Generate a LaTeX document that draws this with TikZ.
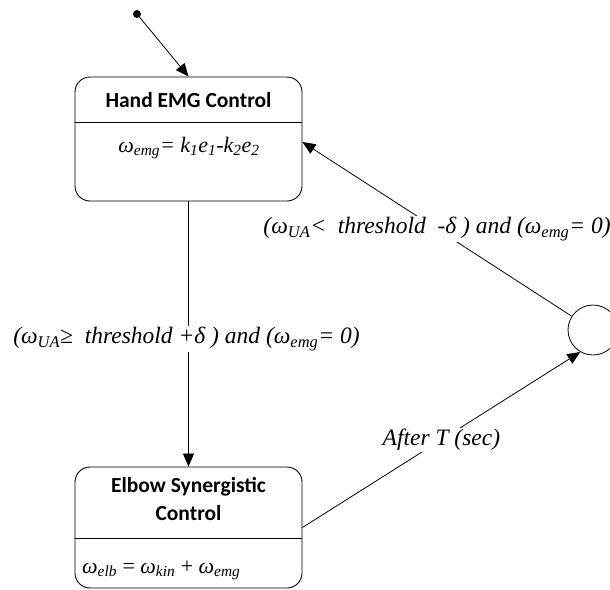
\documentclass[tikz,border=0pt]{standalone}
\usepackage{fontspec}
\setmainfont{Liberation Serif}
\newfontfamily\titlefont{Carlito}
\usetikzlibrary{arrows.meta}
\newcommand\lo[1]{\textsubscript{#1}}
\begin{document}
\begin{tikzpicture}[x=1pt,y=-1pt,
  state/.style={draw, line width=0.9pt, rounded corners=15pt, minimum width=227pt, inner sep=0pt},
  divider/.style={line width=0.8pt},
  title/.style={font=\titlefont\bfseries\fontsize{21.5}{28}\selectfont, align=center, inner sep=0pt},
  formula/.style={font=\itshape\fontsize{22}{26}\selectfont, inner sep=0pt},
  guard/.style={font=\itshape\fontsize{23.5}{28}\selectfont, fill=white, inner sep=1pt},
  edge/.style={line width=0.8pt, -{Triangle[length=13pt,width=11pt]}},
]
\useasboundingbox (0,0) rectangle (610,589);

% states
\node[state, minimum height=124pt] (hand) at (188.5,139) {};
\node[state, minimum height=121pt] (elb) at (188.5,527.5) {};
\coordinate (hsplit) at (0,122);
\coordinate (esplit) at (0,538);
\draw[divider] (hand.west |- hsplit) -- (hand.east |- hsplit);
\draw[divider] (elb.west |- esplit) -- (elb.east |- esplit);

\node[title] (handtitle) at (188.5,100) {Hand EMG Control};
\node[formula] (handlaw) at (189,148) {ω\lo{emg}= k\lo{1}e\lo{1}-k\lo{2}e\lo{2}};
\node[title] (elbtitle) at (188.5,499) {Elbow Synergistic\\Control};
\node[formula, anchor=west] (elblaw) at (82,570) {ω\lo{elb}\upshape{} = \itshape ω\lo{kin}\upshape{} + \itshape ω\lo{emg}};

% initial pseudo-state and junction
\node[fill, circle, minimum size=8pt, inner sep=0pt] (init) at (137,14) {};
\node[draw, circle, minimum size=50pt, inner sep=0pt, line width=0.8pt] (junc) at (593,330) {};

% transitions
\draw[edge] (init) -- (hand.north);
\draw[edge] (hand.south) -- (elb.north)
  node[guard, pos=0.5, xshift=-2pt, yshift=-5pt] (up) {(ω\lo{UA}≥\ \ threshold +δ ) and (ω\lo{emg}= 0)};
\draw[edge] (elb.east) -- (junc.240)
  node[guard, pos=0.5] (timer) {After T (sec)};
\draw[edge] (junc) -- ([yshift=-3pt]hand.east)
  node[guard, pos=0.5] (down) {(ω\lo{UA}<\ \ threshold\ \ -δ ) and (ω\lo{emg}= 0)};
\end{tikzpicture}
\end{document}
